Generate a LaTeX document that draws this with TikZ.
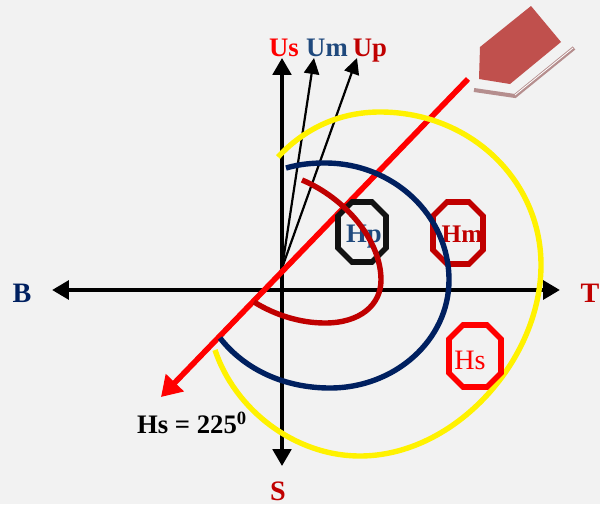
\documentclass[tikz,border=0pt]{standalone}
\usepackage{fontspec}
\setmainfont{Liberation Serif}
\usetikzlibrary{shapes,arrows.meta,positioning}

\definecolor{bluedark}{HTML}{002060}
\definecolor{bluemid}{HTML}{1F497D}
\definecolor{reddark}{HTML}{C00000}
\definecolor{penred}{HTML}{C0504D}
\definecolor{penedge}{HTML}{B58E8E}

\begin{document}
\begin{tikzpicture}[x=0.25mm, y=-0.25mm,
  lab/.style={font=\fontsize{19}{19}\selectfont\bfseries, inner sep=0pt, anchor=base},
  biglab/.style={font=\fontsize{20}{20}\selectfont\bfseries, inner sep=0pt, anchor=base},
  pics/octa/.style 2 args={code={\draw[pic actions, line width=1.4mm] (-#1+14,-#2) -- (#1-14,-#2) -- (#1,-#2+14) -- (#1,#2-14) -- (#1-14,#2) -- (-#1+14,#2) -- (-#1,#2-14) -- (-#1,-#2+14) -- cycle;}},
  axis/.style={-{Triangle[length=4.2mm, width=4.6mm]}, line width=1.1mm},
  thinaxis/.style={-{Triangle[length=4mm, width=3.8mm]}, line width=0.55mm},
  curve/.style={line width=1.35mm}]
\useasboundingbox (0,0) rectangle (600,504);
\fill[black!5] (0,0) rectangle (600,504);

% axes
\coordinate (o) at (282,268);
\coordinate (bt) at (52,290);
\coordinate (tt) at (560,290);
\coordinate (ut) at (282,58);
\coordinate (st) at (282,466);
\coordinate (ss) at (282,290);
\draw[axis] (ss) -- (bt);
\draw[axis] (ss) -- (tt);
\draw[axis, line width=0.9mm] (ss) -- (ut);
\draw[axis, line width=0.9mm] (ss) -- (st);
\coordinate (um) at (314,58);
\coordinate (up) at (357,58);
\draw[thinaxis] (o) -- (um);
\draw[thinaxis] (o) -- (up);

% sun line and pen
\coordinate (pen) at (468,79);
\coordinate (hst) at (161,397);
\draw[-{Triangle[length=5mm, width=6mm]}, red, line width=1.4mm] (pen) -- (hst);
\draw[penedge, line width=1mm] (474,90) -- (515,96) -- (574,48);
\draw[white, line width=0.2mm] (515,95) -- (573,48);
\fill[penred] (531,6) -- (561,42) -- (510,84) -- (479,79) -- (480,47) -- cycle;

% the three houses
\pic[draw=black!93] at (362,232) {octa={24}{30}};
\node[text=bluemid, font=\fontsize{19}{19}\selectfont\bfseries, inner sep=0pt, anchor=base] (hp) at (364,242) {Hp};
\pic[draw=reddark] at (458,233) {octa={25}{31}};
\node[text=reddark, font=\fontsize{18}{18}\selectfont\bfseries, inner sep=0pt, anchor=base] (hm) at (462,242) {Hm};

% curves
\draw[curve, yellow] (278,157) .. controls (305,128) and (340,112) .. (380,112) .. controls (470,112) and (541,180) .. (541,265) .. controls (541,360) and (455,456) .. (360,456) .. controls (295,456) and (235,410) .. (215,350);
\pic[draw=red] at (475,356) {octa={26}{31}};
\node[text=red, font=\fontsize{20}{20}\selectfont, inner sep=0pt, anchor=base] (hs) at (470,369) {Hs};
\draw[curve, bluedark] (286,168) .. controls (300,164) and (312,163) .. (325,163) .. controls (393,163) and (449,215) .. (449,280) .. controls (449,340) and (395,388) .. (330,388) .. controls (285,388) and (245,370) .. (220,338);
\draw[curve, reddark] (302,180) .. controls (345,198) and (381,240) .. (381,280) .. controls (381,305) and (360,323) .. (325,323) .. controls (300,323) and (275,315) .. (254,302);

% labels
\node[lab, red] (us) at (284,56) {Us};
\node[lab, bluemid] (uml) at (327,56) {Um};
\node[lab, reddark] (upl) at (370,56) {Up};
\node[biglab, bluedark] (b) at (22,302) {B};
\node[biglab, reddark] (t) at (590,302) {T};
\node[biglab, reddark] (s) at (278,500) {S};
\node[lab] (hv) at (192,433) {Hs = 225\textsuperscript{0}};
\end{tikzpicture}
\end{document}
